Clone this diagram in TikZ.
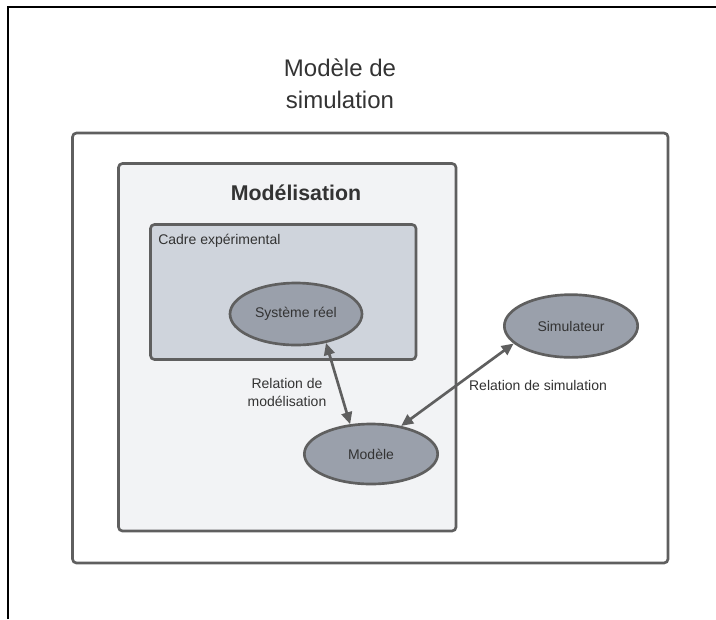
\documentclass[tikz,border=0pt]{standalone}
\usepackage{fontspec}
\setmainfont{Liberation Sans}
\usetikzlibrary{arrows.meta,shapes.geometric}
\definecolor{strokegray}{HTML}{5F5F5F}
\definecolor{lightfill}{HTML}{F2F3F5}
\definecolor{cadrefill}{HTML}{CFD4DC}
\definecolor{ellfill}{HTML}{9AA0AB}
\definecolor{txt}{HTML}{333333}
\tikzset{
  boxstyle/.style={draw=strokegray, line width=2pt, rounded corners=3pt},
  ellnode/.style={ellipse, draw=strokegray, line width=2pt, fill=ellfill, text=txt,
     font=\fontsize{10.5}{12}\selectfont},
  smalltext/.style={text=txt, font=\fontsize{10.5}{13}\selectfont, align=center, inner sep=0pt},
  rel/.style={draw=strokegray, line width=2pt, {Triangle[length=9pt,width=8pt]}-{Triangle[length=9pt,width=8pt]}}
}
\begin{document}
\begin{tikzpicture}[x=0.75pt,y=-0.75pt]
\useasboundingbox (0,0) rectangle (716,619);
% frame
\draw[black, line width=1.5pt] (7.5,619) -- (7.5,7) -- (716,7);
% title
\node[text=txt, font=\fontsize{18}{24}\selectfont, align=center, inner sep=0pt] (title) at (340,84) {Modèle de\\simulation};
% outer box
\draw[boxstyle, fill=white] (72.5,133) rectangle (668,563);
% modelisation box
\draw[boxstyle, fill=lightfill] (118.5,163.5) rectangle (456,531);
\node[text=txt, font=\fontsize{16}{19}\selectfont\bfseries, inner sep=0pt] (modtitle) at (296,193) {Modélisation};
% cadre box
\draw[boxstyle, fill=cadrefill] (150.5,224.5) rectangle (416,359.5);
\node[smalltext, anchor=west] (cadre) at (158,241) {Cadre expérimental};
% ellipses
\node[ellnode, minimum width=99pt, minimum height=46.5pt] (sys) at (296,314) {Système réel};
\node[ellnode, minimum width=100pt, minimum height=47pt] (sim) at (571,326) {Simulateur};
\node[ellnode, minimum width=100pt, minimum height=45pt] (mod) at (371,454) {Modèle};
% arrows
\draw[rel] (sys.-44) -- (mod.125);
\draw[rel] (mod.43) -- (sim.-163);
% labels
\node[smalltext] (lab1) at (287,392.5) {Relation de\\modélisation};
\node[smalltext] (lab2) at (538,385) {Relation de simulation};
\end{tikzpicture}
\end{document}
